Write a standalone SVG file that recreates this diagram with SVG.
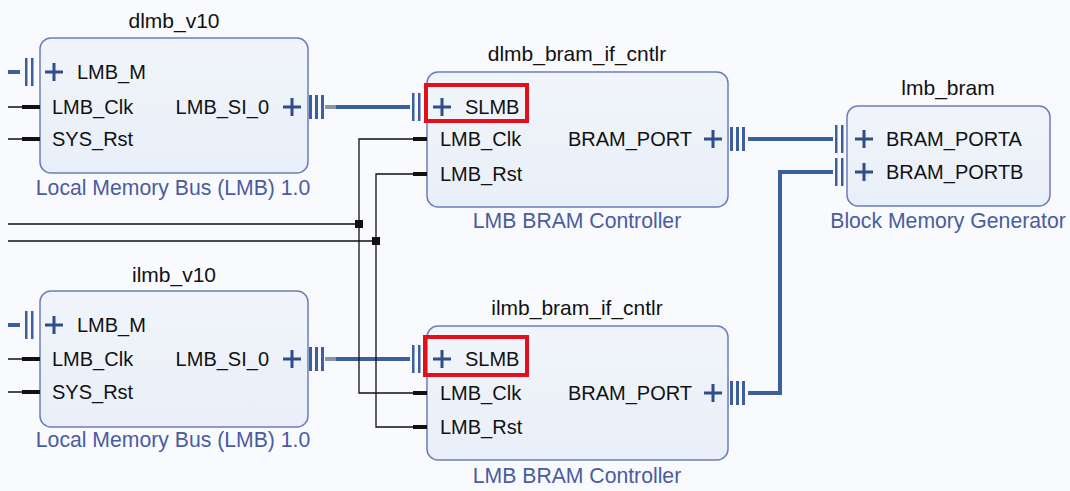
<svg xmlns="http://www.w3.org/2000/svg" width="1070" height="491" viewBox="0 0 1070 491">
<defs>
<linearGradient id="bg" x1="0" y1="0" x2="0" y2="1"><stop offset="0" stop-color="#f1f5fb"/><stop offset="1" stop-color="#e9eff8"/></linearGradient>
<g id="plus"><path d="M-9 0H9M0 -9V9" stroke="#2f4d8a" stroke-width="3"/></g>
<g id="tri"><rect x="0" y="-12" width="3" height="24" fill="#3d5f9e"/><rect x="6" y="-12" width="3" height="24" fill="#3d5f9e"/><rect x="12" y="-12" width="3" height="24" fill="#3d5f9e"/></g>
<g id="dbl"><rect x="0" y="-14" width="2.5" height="28" fill="#3d5f9e"/><rect x="6" y="-14" width="2.5" height="28" fill="#3d5f9e"/></g>
</defs>
<style>
.box{fill:url(#bg);stroke:#6c7cbc;stroke-width:1.5}
.t{font-family:"Liberation Sans",Arial,sans-serif;font-size:20px;fill:#111}
.title{font-family:"Liberation Sans",Arial,sans-serif;font-size:21px;fill:#111;text-anchor:middle}
.sub{font-family:"Liberation Sans",Arial,sans-serif;font-size:21.2px;fill:#4a5ca0;text-anchor:middle}
.bus{stroke:#3d5f9e;stroke-width:4;fill:none}
.wire{stroke:#111;stroke-width:1.3;fill:none}
.stub{stroke:#111;stroke-width:4}
.hl{fill:none;stroke:#e3101c;stroke-width:4}
</style>
<rect width="1070" height="491" fill="#f8fafd"/>

<g id="connectors">
<path class="bus" d="M335 107H410"/>
<path d="M325 107H336" stroke="#8a93a8" stroke-width="4"/>
<path class="bus" d="M335 359H410"/>
<path d="M325 359H336" stroke="#8a93a8" stroke-width="4"/>
<path class="bus" d="M748 139H833"/>
<path class="bus" d="M748 393H780V172H833"/>
<path class="wire" d="M8 224H359"/>
<path class="wire" d="M8 241H376"/>
<path class="wire" d="M413 139H359V393H413"/>
<path class="wire" d="M413 174H376V427H413"/>
<rect x="355" y="220" width="8" height="8" fill="#111"/>
<rect x="372" y="237" width="8" height="8" fill="#111"/>
<path class="wire" d="M8 107H22M8 139H22M8 359H22M8 392H22"/>
<path d="M8 72H20M8 325H20" stroke="#3d5f9e" stroke-width="4"/>
</g>

<g id="dlmb_v10">
<text class="title" x="174" y="28">dlmb_v10</text>
<rect class="box" x="40" y="38" width="268" height="135" rx="11"/>
<use href="#dbl" x="25" y="72"/>
<use href="#plus" x="54" y="72"/>
<text class="t" x="77" y="79">LMB_M</text>
<path class="stub" d="M22 107H40M22 139H40"/>
<text class="t" x="52" y="114">LMB_Clk</text>
<text class="t" x="52" y="146">SYS_Rst</text>
<text class="t" x="269" y="114" text-anchor="end">LMB_SI_0</text>
<use href="#plus" x="292" y="107"/>
<use href="#tri" x="309" y="107"/>
<text class="sub" x="173" y="195">Local Memory Bus (LMB) 1.0</text>
</g>

<g id="ilmb_v10">
<text class="title" x="174" y="282">ilmb_v10</text>
<rect class="box" x="40" y="291" width="268" height="136" rx="11"/>
<use href="#dbl" x="25" y="325"/>
<use href="#plus" x="54" y="325"/>
<text class="t" x="77" y="332">LMB_M</text>
<path class="stub" d="M22 359H40M22 392H40"/>
<text class="t" x="52" y="366">LMB_Clk</text>
<text class="t" x="52" y="399">SYS_Rst</text>
<text class="t" x="269" y="366" text-anchor="end">LMB_SI_0</text>
<use href="#plus" x="292" y="359"/>
<use href="#tri" x="309" y="359"/>
<text class="sub" x="173" y="447">Local Memory Bus (LMB) 1.0</text>
</g>

<g id="dlmb_bram_if_cntlr">
<text class="title" x="577" y="61">dlmb_bram_if_cntlr</text>
<rect class="box" x="427" y="72" width="301" height="135" rx="11"/>
<use href="#dbl" x="412" y="107"/>
<use href="#plus" x="442" y="107"/>
<text class="t" x="465" y="114">SLMB</text>
<rect class="hl" x="426" y="85" width="101" height="36"/>
<path class="stub" d="M413 139H427M413 174H427"/>
<text class="t" x="440" y="146">LMB_Clk</text>
<text class="t" x="440" y="181">LMB_Rst</text>
<text class="t" x="692" y="146" text-anchor="end">BRAM_PORT</text>
<use href="#plus" x="713" y="139"/>
<use href="#tri" x="730" y="139"/>
<text class="sub" x="577" y="228">LMB BRAM Controller</text>
</g>

<g id="ilmb_bram_if_cntlr">
<text class="title" x="577" y="315">ilmb_bram_if_cntlr</text>
<rect class="box" x="427" y="326" width="301" height="134" rx="11"/>
<use href="#dbl" x="412" y="359"/>
<use href="#plus" x="442" y="359"/>
<text class="t" x="465" y="366">SLMB</text>
<rect class="hl" x="425" y="337" width="102" height="38"/>
<path class="stub" d="M413 393H427M413 427H427"/>
<text class="t" x="440" y="400">LMB_Clk</text>
<text class="t" x="440" y="434">LMB_Rst</text>
<text class="t" x="692" y="400" text-anchor="end">BRAM_PORT</text>
<use href="#plus" x="713" y="393"/>
<use href="#tri" x="730" y="393"/>
<text class="sub" x="577" y="483">LMB BRAM Controller</text>
</g>

<g id="lmb_bram">
<text class="title" x="948" y="95">lmb_bram</text>
<rect class="box" x="847" y="106" width="203" height="100" rx="11"/>
<use href="#dbl" x="835" y="139"/>
<use href="#dbl" x="835" y="172"/>
<use href="#plus" x="864" y="139"/>
<use href="#plus" x="864" y="172"/>
<text class="t" x="886" y="146">BRAM_PORTA</text>
<text class="t" x="886" y="179">BRAM_PORTB</text>
<text class="sub" x="948" y="228">Block Memory Generator</text>
</g>
</svg>
